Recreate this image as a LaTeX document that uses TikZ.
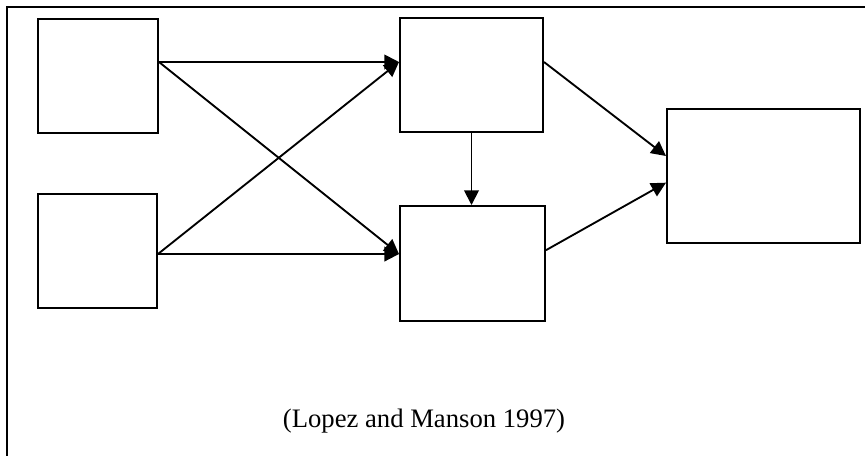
\documentclass[tikz,border=0pt]{standalone}
\usepackage{fontspec}
\setmainfont{Liberation Serif}
\usepackage{tikz}
\usetikzlibrary{arrows.meta}

\begin{document}
\begin{tikzpicture}[x=0.75pt,y=-0.75pt,
    box/.style={draw,line width=1.5pt,inner sep=0pt},
    link/.style={line width=1.4pt,-{Triangle[length=11pt,width=11pt]}}]
        \useasboundingbox (0,0) rectangle (865,455);
        \clip (0,0) rectangle (865,455);
        \draw[line width=1.5pt] (7,7) rectangle (900,500);

        \node[box,minimum width=90pt,minimum height=85.5pt] (A) at (98,76) {};
        \node[box,minimum width=89.25pt,minimum height=85.5pt] (B) at (97.5,251) {};
        \node[box,minimum width=107.25pt,minimum height=85.5pt] (C) at (471.5,75) {};
        \node[box,minimum width=108.75pt,minimum height=86.25pt] (D) at (472.5,263.5) {};
        \node[box,minimum width=144.75pt,minimum height=100.5pt] (E) at (763.5,176) {};

        \draw[link] ([yshift=10.5pt]A.east) to ([yshift=9.75pt]C.west);
        \draw[link] ([yshift=10.5pt]A.east) to ([yshift=7.1pt]D.west);
        \draw[link] ([yshift=-2.25pt]B.east) to ([yshift=9.75pt]C.west);
        \draw[link] ([yshift=-2.25pt]B.east) to ([yshift=7.1pt]D.west);
        \draw[link] (C.south) to (C.south |- D.north);
        \draw[link] ([yshift=9.75pt]C.east) to ([yshift=15pt]E.west);
        \draw[link] ([yshift=10pt]D.east) to ([yshift=-5pt]E.west);

        \node (src) at (424,421) {\fontsize{20}{24}\selectfont (Lopez and Manson 1997)};
      \end{tikzpicture}
\end{document}
